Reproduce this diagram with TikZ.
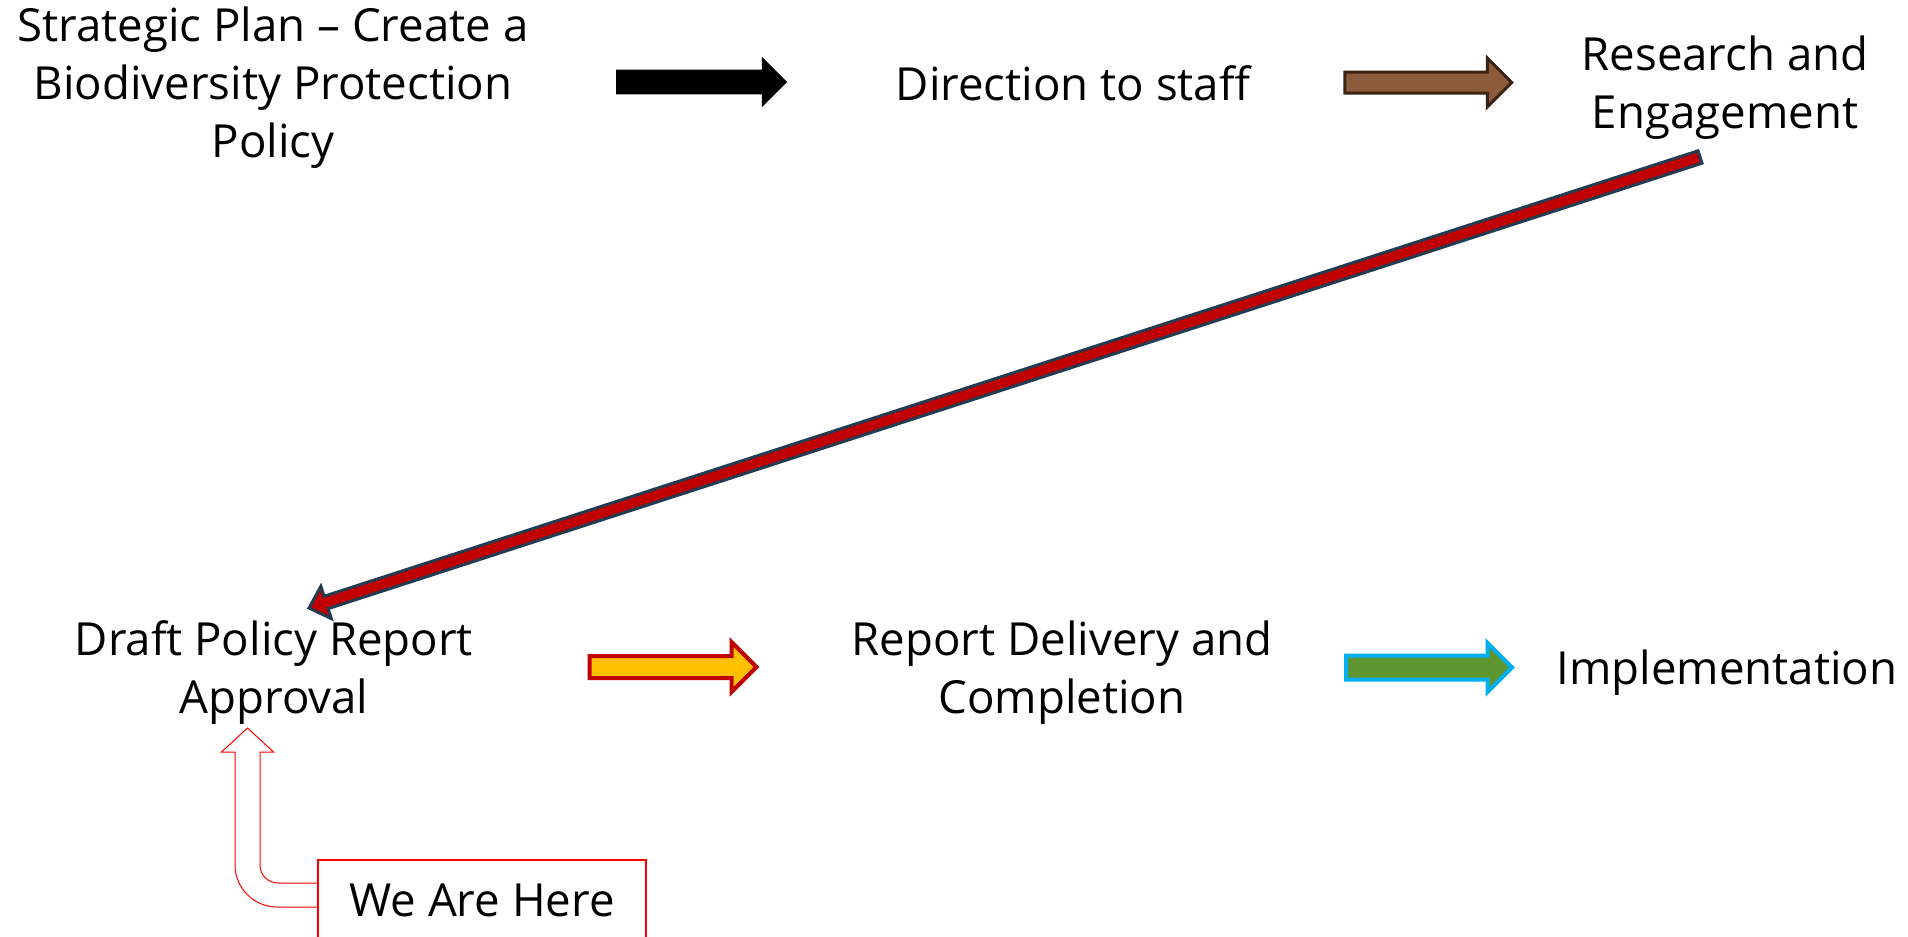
\documentclass[tikz,border=0pt]{standalone}
\usepackage{fontspec}
\setmainfont{Open Sans}
\usetikzlibrary{shapes.arrows,calc}
\definecolor{barkbrown}{HTML}{8B5B3B}
\definecolor{barkedge}{HTML}{3B2314}
\definecolor{deepred}{HTML}{C00000}
\definecolor{slateedge}{HTML}{233C52}
\definecolor{amber}{HTML}{FFC000}
\definecolor{leafgreen}{HTML}{5F9632}
\definecolor{skyedge}{HTML}{00B0F0}
\definecolor{herered}{HTML}{FF0000}

\begin{document}
\begin{tikzpicture}[x=0.5pt,y=-0.5pt,
    stage/.style={font=\fontsize{22.8}{29}\selectfont, align=center, inner sep=0pt},
    blockarrow/.style={single arrow, inner xsep=0pt, inner ysep=6pt, line join=miter,
      single arrow head extend=6.5pt, minimum height=85pt}]
  \useasboundingbox (0,0) rectangle (1908,937);

  % stages, top row
  \node[stage] (plan) at (273,88) {Strategic Plan – Create a\\Biodiversity Protection\\Policy};
  \node[stage] (staff) at (1073,83) {Direction to staff};
  \node[stage] (research) at (1725,88) {Research and\\Engagement};
  % stages, bottom row
  \node[stage] (draft) at (274,673) {Draft Policy Report\\Approval};
  \node[stage] (delivery) at (1062,673) {Report Delivery and\\Completion};
  \node[stage] (impl) at (1727,673) {Implementation};

  % block arrows between the stages
  \node[blockarrow, fill=black, minimum height=85.5pt] (go1) at (695.5,82) {};
  \node[blockarrow, fill=barkbrown, draw=barkedge, line width=1.5pt, inner ysep=4.5pt,
        single arrow head extend=7pt, minimum height=83.5pt] (go2) at (1423,82.5) {};
  \node[blockarrow, fill=amber, draw=deepred, line width=2pt, inner ysep=4.5pt,
        single arrow head extend=7pt, minimum height=83.5pt] (go4) at (667.5,667) {};
  \node[blockarrow, fill=leafgreen, draw=skyedge, line width=2pt, inner ysep=5pt,
        single arrow head extend=6.25pt, minimum height=83pt] (go5) at (1423,667.5) {};

  % long arrow back down to the draft report
  \coordinate (tail) at (1700,157);
  \coordinate (tip) at (309,608);
  \coordinate (base) at ($(tip)!9pt!(tail)$);
  \draw[fill=deepred, draw=slateedge, line width=1.5pt, line join=miter]
    ($(tail)!3.25pt!90:(tip)$) -- ($(base)!3.25pt!-90:(tail)$)
    -- ($(base)!8.5pt!-90:(tail)$) -- (tip) -- ($(base)!8.5pt!90:(tail)$)
    -- ($(base)!3.25pt!90:(tail)$) -- ($(tail)!3.25pt!-90:(tip)$) -- cycle;

  % we are here
  \node[stage, draw=herered, line width=1pt, minimum width=164pt, minimum height=40pt] (here) at (482,900) {We Are Here};
  \draw[herered, line width=0.5pt]
    ($(here.west)+(0,-17)$) -- (278,883) .. controls (268,883) and (260,875) .. (260,865)
    -- (260,752) -- (273.5,752) -- (247.5,728) -- (221.5,752) -- (235,752)
    -- (235,865) .. controls (235,888) and (254,907) .. (277,907) -- ($(here.west)+(0,7)$);
\end{tikzpicture}
\end{document}
